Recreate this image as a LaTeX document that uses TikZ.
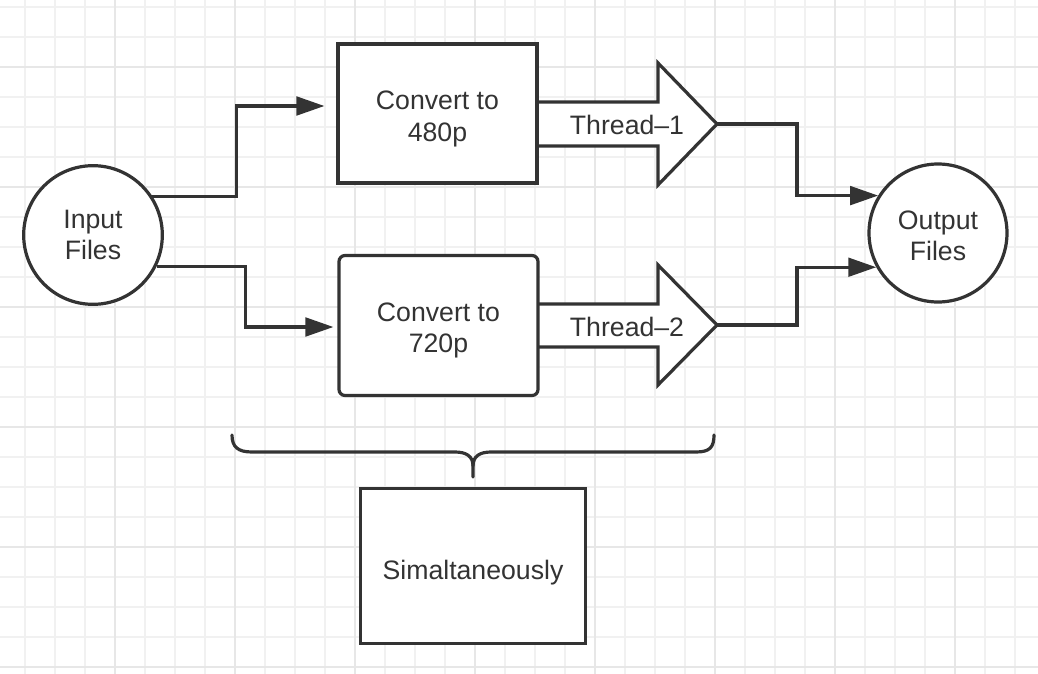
\documentclass[tikz,border=0pt]{standalone}
\usepackage{fontspec}
\setmainfont{Liberation Sans}
\usetikzlibrary{arrows.meta,calc}
\definecolor{ink}{HTML}{333333}
\definecolor{gridminor}{HTML}{F1F1F1}
\definecolor{gridmajor}{HTML}{E7E7E7}
\begin{document}
\begin{tikzpicture}[x=0.75pt,y=-0.75pt,
  font=\fontsize{20}{23.5}\selectfont,
  box/.style={draw=ink, line width=2.4pt, fill=white, minimum width=149.25pt, minimum height=104.25pt, inner sep=0pt},
  circ/.style={circle, draw=ink, line width=2.4pt, fill=white, minimum size=104pt, align=center, text=ink, inner sep=0pt},
  conn/.style={draw=ink, line width=2.3pt, -{Triangle[length=21pt,width=14pt]}},
  fatarrow/.style={draw=ink, line width=2.4pt, fill=white, line join=miter},
  lbl/.style={text=ink, inner sep=0pt, align=center},
  bracepath/.style={draw=ink, line width=2.4pt, line cap=round},
  gminor/.style={draw=gridminor, line width=1.3pt},
  gmajor/.style={draw=gridmajor, line width=1.3pt}]
\useasboundingbox (0,0) rectangle (1038,674);
\fill[white] (0,0) rectangle (1038,674);
% grid
\foreach \x in {25,55,...,1015} \draw[gminor] (\x,0) -- (\x,674);
\foreach \y in {7,37,...,667} \draw[gminor] (0,\y) -- (1038,\y);
\foreach \x in {115,235,...,955} \draw[gmajor] (\x,0) -- (\x,674);
\foreach \y in {67,187,...,667} \draw[gmajor] (0,\y) -- (1038,\y);
% fat thread arrows
\draw[fatarrow] (538,102) -- (658,102) -- (658,63) -- (717,124) -- (658,185) -- (658,146) -- (538,146);
\coordinate (t1) at (717,124);
\draw[fatarrow] (538,304) -- (658,304) -- (658,265) -- (717,325) -- (658,385) -- (658,347) -- (538,347);
\coordinate (t2) at (717,325);
\node[lbl] (t1l) at (627,125) {Thread–1};
\node[lbl] (t2l) at (627,327) {Thread–2};
% nodes
\node[circ] (in) at (93,235) {Input\\Files};
\node[circ, minimum size=103.5pt] (out) at (938,233) {};
\node[lbl] (outt) at ([yshift=-2pt]out.center) {Output\\Files};
\node[box] (b1) at (437.5,113.5) {};
\node[lbl] (b1t) at ([yshift=-4pt]b1.center) {Convert to\\480p};
\node[box, rounded corners=4.5pt, minimum height=105pt] (b2) at (438.5,325.5) {};
\node[lbl] (b2t) at ([yshift=-3.5pt]b2.center) {Convert to\\720p};
\node[box, minimum width=168.75pt, minimum height=116.25pt] (sim) at (473,566) {};
\node[lbl] (simt) at ([yshift=-5pt]sim.center) {Simaltaneously};
% connectors
\draw[conn, shorten >=9pt] (in.33) -| ($(b1.west)+(-100,-7.5)$) -- ($(b1.west)+(0,-7.5)$);
\draw[conn, shorten >=3pt] (in.-26) -| ($(b2.west)+(-92,1.5)$) -- ($(b2.west)+(0,1.5)$);
\draw[conn] (t1) -- ++(80,0) |- (out.148);
\draw[conn] (t2) -- ++(80,0) |- (out.209);
% brace
\draw[bracepath] (232,435) .. controls (232,447) and (238,452) .. (252,452) -- (455,452)
  .. controls (466,452) and (473,456) .. (473,466) -- (473,477);
\draw[bracepath] (473,466) .. controls (473,456) and (480,452) .. (491,452) -- (696,452)
  .. controls (710,452) and (714,447) .. (714,435);
\end{tikzpicture}
\end{document}
